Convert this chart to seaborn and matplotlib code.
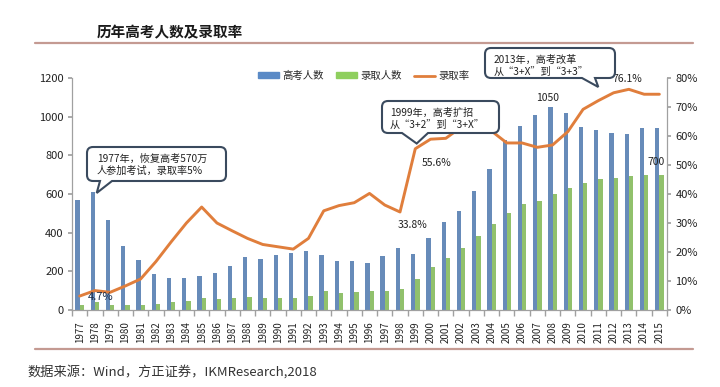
import numpy as np
import pandas as pd
import matplotlib
matplotlib.use("Agg")
import matplotlib.pyplot as plt
import seaborn as sns
from matplotlib.lines import Line2D
from matplotlib.patches import Patch, PathPatch
from matplotlib.path import Path
from matplotlib.ticker import PercentFormatter

# 数据
years = [str(y) for y in range(1977, 2016)]
gaokao = [570, 610, 468, 333, 259, 187, 167, 164, 176, 191, 228, 272, 266, 283,
          296, 303, 286, 251, 253, 241, 278, 320, 288, 375, 454, 510, 613, 729,
          877, 950, 1010, 1050, 1020, 946, 933, 915, 912, 939, 942]
luqu = [27, 40, 28, 28, 28, 32, 39, 48, 62, 57, 62, 67, 60, 61, 62, 75, 98, 90,
        93, 97, 100, 108, 160, 221, 268, 320, 382, 447, 504, 546, 566, 599, 629,
        657, 675, 685, 694, 698, 700]
rate = [0.048, 0.067, 0.061, 0.083, 0.107, 0.167, 0.235, 0.30, 0.355, 0.30,
        0.273, 0.247, 0.226, 0.218, 0.21, 0.247, 0.342, 0.36, 0.37, 0.402,
        0.362, 0.338, 0.556, 0.589, 0.592, 0.63, 0.626, 0.617, 0.576, 0.576,
        0.561, 0.569, 0.615, 0.692, 0.722, 0.749, 0.761, 0.744, 0.744]
series = ['高考人数', '录取人数', '录取率']

blue = '#5A8AC6'
green = '#8FCF5E'
orange = '#E07E3C'
edge = '#3A4A5E'

W, H = 720, 387

sns.set_theme(style='white')
plt.rcParams['font.family'] = ['Noto Sans CJK SC', 'DejaVu Sans']

df = pd.DataFrame({
    'year': years * 2,
    'value': gaokao + luqu,
    'series': [series[0]] * len(years) + [series[1]] * len(years),
})

fig = plt.figure(figsize=(W / 100, H / 100), dpi=100)
ax = fig.add_axes([72 / W, 1 - 310 / H, (667 - 72) / W, 232 / H])

sns.barplot(data=df, x='year', y='value', hue='series', palette=[blue, green],
            width=0.56, linewidth=0, ax=ax, legend=False)
ax.set_ylim(0, 1200)
ax.set_yticks(range(0, 1201, 200))
ax.set_xlabel('')
ax.set_ylabel('')

ax2 = ax.twinx()
sns.lineplot(x=np.arange(len(years)), y=rate, ax=ax2, color=orange, lw=2.1)
ax2.set_ylim(0, 0.8)
ax2.set_yticks(np.arange(0, 0.81, 0.1))
ax2.yaxis.set_major_formatter(PercentFormatter(1.0, decimals=0))
ax.set_xlim(-0.5, len(years) - 0.5)

# 坐标轴样式
for a in (ax, ax2):
    a.spines['top'].set_visible(False)
    for s in ['left', 'right', 'bottom']:
        a.spines[s].set_color('#a0a0a0')
        a.spines[s].set_linewidth(0.9)
ax.spines['right'].set_visible(False)
ax2.spines['left'].set_visible(False)
ax2.spines['bottom'].set_visible(False)

ax.tick_params(axis='y', left=True, length=3, color='#a0a0a0', labelsize=8,
               labelcolor='#222', pad=3)
ax2.tick_params(axis='y', right=True, length=3, color='#a0a0a0', labelsize=8,
                labelcolor='#222', pad=3)
ax.tick_params(axis='x', bottom=False, labelsize=7, labelcolor='#222',
               labelrotation=90, pad=2)
ax.set_xticks(np.arange(-0.5, len(years), 1), minor=True)
ax.tick_params(axis='x', which='minor', bottom=True, length=4, color='#a0a0a0')

# 图例
handles = [Patch(color=blue), Patch(color=green), Line2D([], [], color=orange, lw=2)]
ax2.legend(handles, series, loc='center', bbox_to_anchor=(0.49, 1.01), ncol=3,
           frameon=False, fontsize=7.5, handlelength=2.0, handleheight=0.45,
           columnspacing=1.2, handletextpad=0.3)

# 数值标注
lab = dict(fontsize=7.5, color='#222', ha='center', va='center')
ax2.text(1.4, 0.045, '4.7%', fontsize=8, color='#1F2F4A', ha='center', va='center')
ax2.text(21.8, 0.293, '33.8%', **lab)
ax2.text(23.4, 0.507, '55.6%', **lab)
ax2.text(30.7, 1097 / 1500, '1050', **lab)
ax2.text(35.9, 0.797, '76.1%', **lab)
ax2.text(37.8, 766 / 1500, '700', **lab)


# 气泡注释（像素坐标，y 从上往下）
def bubble(box, tail, tip, lines, text_xy, r=6):
    x0, y0, x1, y1 = box  # 左, 上, 右, 下
    ta, tb = tail
    f = lambda x, y: (x / W, 1 - y / H)
    pts = [
        (f(x0 + r, y0), Path.MOVETO), (f(x1 - r, y0), Path.LINETO),
        (f(x1, y0), Path.CURVE3), (f(x1, y0 + r), Path.CURVE3),
        (f(x1, y1 - r), Path.LINETO),
        (f(x1, y1), Path.CURVE3), (f(x1 - r, y1), Path.CURVE3),
        (f(tb, y1), Path.LINETO), (f(*tip), Path.LINETO), (f(ta, y1), Path.LINETO),
        (f(x0 + r, y1), Path.LINETO),
        (f(x0, y1), Path.CURVE3), (f(x0, y1 - r), Path.CURVE3),
        (f(x0, y0 + r), Path.LINETO),
        (f(x0, y0), Path.CURVE3), (f(x0 + r, y0), Path.CURVE3),
        (f(x0 + r, y0), Path.CLOSEPOLY),
    ]
    verts, codes = zip(*pts)
    fig.add_artist(PathPatch(Path(verts, codes), fc='white', ec=edge, lw=1.5,
                             transform=fig.transFigure, zorder=5))
    for i, t in enumerate(lines):
        tx, ty = text_xy
        fig.text(tx / W, 1 - (ty + i * 12) / H, t, fontsize=7.3, color='#222',
                 va='center', ha='left', zorder=6)


bubble((87, 147, 226, 181), (100, 112), (96.7, 193), ['1977年，恢复高考570万', '人参加考试，录取率5%'], (97, 159))
bubble((382, 101, 499, 133), (402, 428), (416.7, 143.5), ['1999年，高考扩招', '从“3+2”到“3+X”'], (390, 113))
bubble((485, 48, 615, 78), (582, 595), (598.3, 87), ['2013年，高考改革', '从“3+X”到“3+3”'], (494, 60))

# 标题与来源
fig.text(97 / W, 1 - 32 / H, '历年高考人数及录取率', fontsize=10.5,
         fontweight='bold', color='#1a1a1a', va='center')
fig.add_artist(Line2D([35 / W, 693 / W], [1 - 43 / H] * 2, color='#C49A92', lw=1.6))
fig.add_artist(Line2D([35 / W, 693 / W], [1 - 349 / H] * 2, color='#C49A92', lw=1.6))
fig.text(27 / W, 1 - 372 / H, '数据来源：Wind，方正证券，IKMResearch,2018',
         fontsize=9.5, color='#333', va='center')

fig.savefig('out.png', dpi=100)
